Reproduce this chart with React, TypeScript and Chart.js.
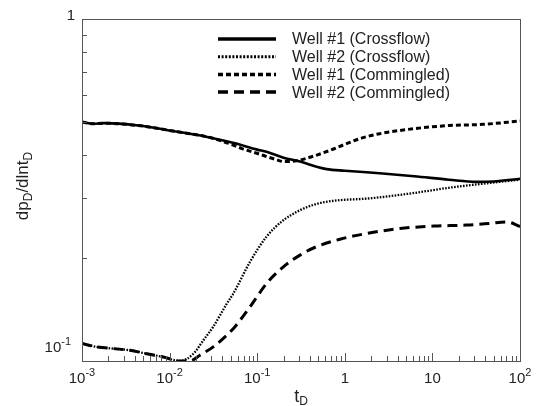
import React, { useEffect, useRef } from 'react';
import { Chart, registerables } from 'chart.js';

Chart.register(...registerables);

const FONT = "'Liberation Sans', Arial, Helvetica, sans-serif";

// ---- data (t_D, dp_D/dlnt_D) ----
const w1CrossT = [0.001, 0.00135, 0.00177, 0.00439, 0.0109, 0.0269, 0.0557, 0.1, 0.128, 0.2, 0.308, 0.477, 0.62, 1, 2.5, 6.2, 15.4, 31.8, 50, 100];
const w1CrossV = [0.5, 0.494, 0.496, 0.488, 0.4705, 0.452, 0.433, 0.415, 0.409, 0.393, 0.383, 0.37, 0.364, 0.36, 0.354, 0.347, 0.339, 0.334, 0.335, 0.341];

const w2CrossT = [0.001, 0.00147, 0.00228, 0.00353, 0.00548, 0.00848, 0.0132, 0.0187, 0.0243, 0.0315, 0.0449, 0.0534, 0.0828, 0.128, 0.199, 0.308, 0.477, 0.74, 1.94, 6.2, 15.4, 38, 100];
const w2CrossV = [0.1125, 0.11, 0.1087, 0.1075, 0.105, 0.1027, 0.1, 0.105, 0.115, 0.126, 0.147, 0.1575, 0.195, 0.231, 0.258, 0.276, 0.288, 0.294, 0.299, 0.31, 0.321, 0.33, 0.339];

const w1CommT = [0.001, 0.00135, 0.00177, 0.00439, 0.0109, 0.0269, 0.0424, 0.053, 0.0668, 0.105, 0.128, 0.165, 0.2, 0.28, 0.41, 0.73, 1, 1.58, 2.5, 6.2, 15.4, 38, 100];
const w1CommV = [0.5, 0.494, 0.496, 0.488, 0.4705, 0.452, 0.437, 0.428, 0.418, 0.403, 0.396, 0.388, 0.383, 0.385, 0.395, 0.416, 0.43, 0.449, 0.462, 0.478, 0.488, 0.492, 0.503];

const w2CommT = [0.001, 0.00147, 0.00228, 0.00353, 0.00548, 0.00848, 0.0132, 0.017, 0.0222, 0.0315, 0.0449, 0.0558, 0.0828, 0.128, 0.199, 0.308, 0.477, 0.88, 1.78, 4.27, 10.3, 24.5, 45.3, 70.6, 92, 100];
const w2CommV = [0.1125, 0.11, 0.1087, 0.1075, 0.105, 0.1027, 0.1, 0.1, 0.104, 0.11, 0.119, 0.126, 0.144, 0.1685, 0.1885, 0.204, 0.216, 0.227, 0.236, 0.244, 0.248, 0.2497, 0.2526, 0.255, 0.2497, 0.247];

const seriesLabels = ['Well #1 (Crossflow)', 'Well #2 (Crossflow)', 'Well #1 (Commingled)', 'Well #2 (Commingled)'];

// ---- ticks ----
const xDecades = [0.001, 0.01, 0.1, 1, 10];
const xMinorMult = [2, 3, 4, 5, 6, 7, 8, 9];
const xTickValues = [0.001, 0.01, 0.1, 1, 10, 100];
const xTickBases = ['10', '10', '10', '1', '10', '10'];
const xTickExps = ['-3', '-2', '-1', '', '', '2'];
const yMinorValues = [0.2, 0.3, 0.4, 0.5, 0.6, 0.7, 0.8, 0.9];
const yTickValues = [1, 0.1];
const yTickBases = ['1', '10'];
const yTickExps = ['', '-1'];

const framePlugin = {
  id: 'framePlugin',
  afterDraw(chart: any) {
    const { ctx, chartArea: a, scales } = chart;
    const xs = scales.x;
    const ys = scales.y;
    ctx.save();
    ctx.strokeStyle = '#555';
    ctx.lineWidth = 1;
    // frame
    ctx.strokeRect(Math.round(a.left) + 0.5, Math.round(a.top) + 0.5, Math.round(a.right - a.left), Math.round(a.bottom - a.top));
    // x ticks (inward, bottom)
    ctx.beginPath();
    for (const d of xDecades) {
      const major = [1, ...xMinorMult];
      for (const m of major) {
        const v = d * m;
        const px = Math.round(xs.getPixelForValue(v)) + 0.5;
        const len = m === 1 ? 8 : 5;
        ctx.moveTo(px, a.bottom);
        ctx.lineTo(px, a.bottom - len);
      }
    }
    // y ticks (inward, left)
    for (const v of yMinorValues) {
      const py = Math.round(ys.getPixelForValue(v)) + 0.5;
      ctx.moveTo(a.left, py);
      ctx.lineTo(a.left + 5, py);
    }
    ctx.stroke();

    const baseFont = `15px ${FONT}`;
    const expFont = `11px ${FONT}`;
    ctx.fillStyle = '#222';
    ctx.textBaseline = 'alphabetic';
    ctx.textAlign = 'left';
    const measure = (b: string, e: string) => {
      ctx.font = baseFont;
      const wb = ctx.measureText(b).width;
      ctx.font = expFont;
      const we = e ? ctx.measureText(e).width : 0;
      return [wb, we];
    };
    const drawPow = (b: string, e: string, x0: number, baseline: number) => {
      const [wb] = measure(b, e);
      ctx.font = baseFont;
      ctx.fillText(b, x0, baseline);
      if (e) {
        ctx.font = expFont;
        ctx.fillText(e, x0 + wb, baseline - 7);
      }
    };
    // x labels
    xTickValues.forEach((v, i) => {
      const px = xs.getPixelForValue(v);
      const [wb, we] = measure(xTickBases[i], xTickExps[i]);
      drawPow(xTickBases[i], xTickExps[i], px - (wb + we) / 2, a.bottom + 22);
    });
    // y labels
    yTickValues.forEach((v, i) => {
      const [wb, we] = measure(yTickBases[i], yTickExps[i]);
      const right = i === 0 ? a.left - 7 : a.left - 11;
      const base = i === 0 ? a.top + 1 : a.bottom - 9;
      drawPow(yTickBases[i], yTickExps[i], right - (wb + we), base);
    });

    // x title t_D
    const cx = (a.left + a.right) / 2;
    ctx.font = `18px ${FONT}`;
    const wt = ctx.measureText('t').width;
    ctx.font = `12px ${FONT}`;
    const wd = ctx.measureText('D').width;
    const sx = cx - (wt + wd) / 2;
    ctx.font = `18px ${FONT}`;
    ctx.fillText('t', sx, a.bottom + 41);
    ctx.font = `12px ${FONT}`;
    ctx.fillText('D', sx + wt, a.bottom + 44);

    // y title dp_D/dlnt_D (rotated)
    const parts: [string, boolean][] = [['dp', false], ['D', true], ['/dlnt', false], ['D', true]];
    let total = 0;
    const widths = parts.map(([s, sub]) => {
      ctx.font = sub ? `12px ${FONT}` : `17px ${FONT}`;
      const w = ctx.measureText(s).width;
      total += w;
      return w;
    });
    ctx.save();
    ctx.translate(28, 186);
    ctx.rotate(-Math.PI / 2);
    let xx = -total / 2;
    parts.forEach(([s, sub], i) => {
      ctx.font = sub ? `12px ${FONT}` : `17px ${FONT}`;
      ctx.fillText(s, xx, sub ? 4 : 0);
      xx += widths[i];
    });
    ctx.restore();

    // legend
    const ds = chart.data.datasets;
    ctx.font = `16px ${FONT}`;
    ctx.textBaseline = 'middle';
    ds.forEach((d: any, i: number) => {
      const y = 39 + i * 17.7;
      ctx.save();
      ctx.strokeStyle = '#000';
      ctx.lineWidth = d.legendWidth;
      ctx.setLineDash(d.legendDash || d.borderDash || []);
      ctx.beginPath();
      ctx.moveTo(218, y);
      ctx.lineTo(276, y);
      ctx.stroke();
      ctx.restore();
      ctx.fillStyle = '#222';
      ctx.fillText(d.label, 292, y + 1);
    });
    ctx.restore();
  },
};

export default function App() {
  const ref = useRef<HTMLCanvasElement>(null);
  useEffect(() => {
    const canvas = ref.current!;
    const mk = (t: number[], v: number[]) => t.map((x, i) => ({ x, y: v[i] }));
    const chart = new Chart(canvas, {
      type: 'line',
      data: {
        datasets: [
          { label: seriesLabels[0], data: mk(w1CrossT, w1CrossV), borderColor: '#000', borderWidth: 2.6, borderDash: [], legendWidth: 3.5, clip: 0 } as any,
          { label: seriesLabels[1], data: mk(w2CrossT, w2CrossV), borderColor: '#000', borderWidth: 2.3, borderDash: [1.6, 1.4], legendWidth: 3, legendDash: [2, 1.6], clip: 0 } as any,
          { label: seriesLabels[2], data: mk(w1CommT, w1CommV), borderColor: '#000', borderWidth: 3, borderDash: [5, 3], legendWidth: 3.5, clip: 0 } as any,
          { label: seriesLabels[3], data: mk(w2CommT, w2CommV), borderColor: '#000', borderWidth: 3, borderDash: [10, 6], legendWidth: 3.5, clip: 0 } as any,
        ],
      },
      options: {
        responsive: false,
        animation: false,
        devicePixelRatio: 1,
        layout: { padding: { left: 82, top: 19, right: 22, bottom: 45 } },
        plugins: { legend: { display: false }, tooltip: { enabled: false } },
        elements: { point: { radius: 0 }, line: { cubicInterpolationMode: 'monotone' } },
        scales: {
          x: { type: 'logarithmic', min: 0.001, max: 100, display: false },
          y: { type: 'logarithmic', min: 0.1, max: 1, display: false },
        },
      },
      plugins: [framePlugin],
    });
    return () => chart.destroy();
  }, []);
  return (
    <canvas
      ref={ref}
      width={542}
      height={406}
      style={{ position: 'fixed', left: 0, top: 0, width: 542, height: 406, display: 'block', background: '#fff' }}
    />
  );
}
